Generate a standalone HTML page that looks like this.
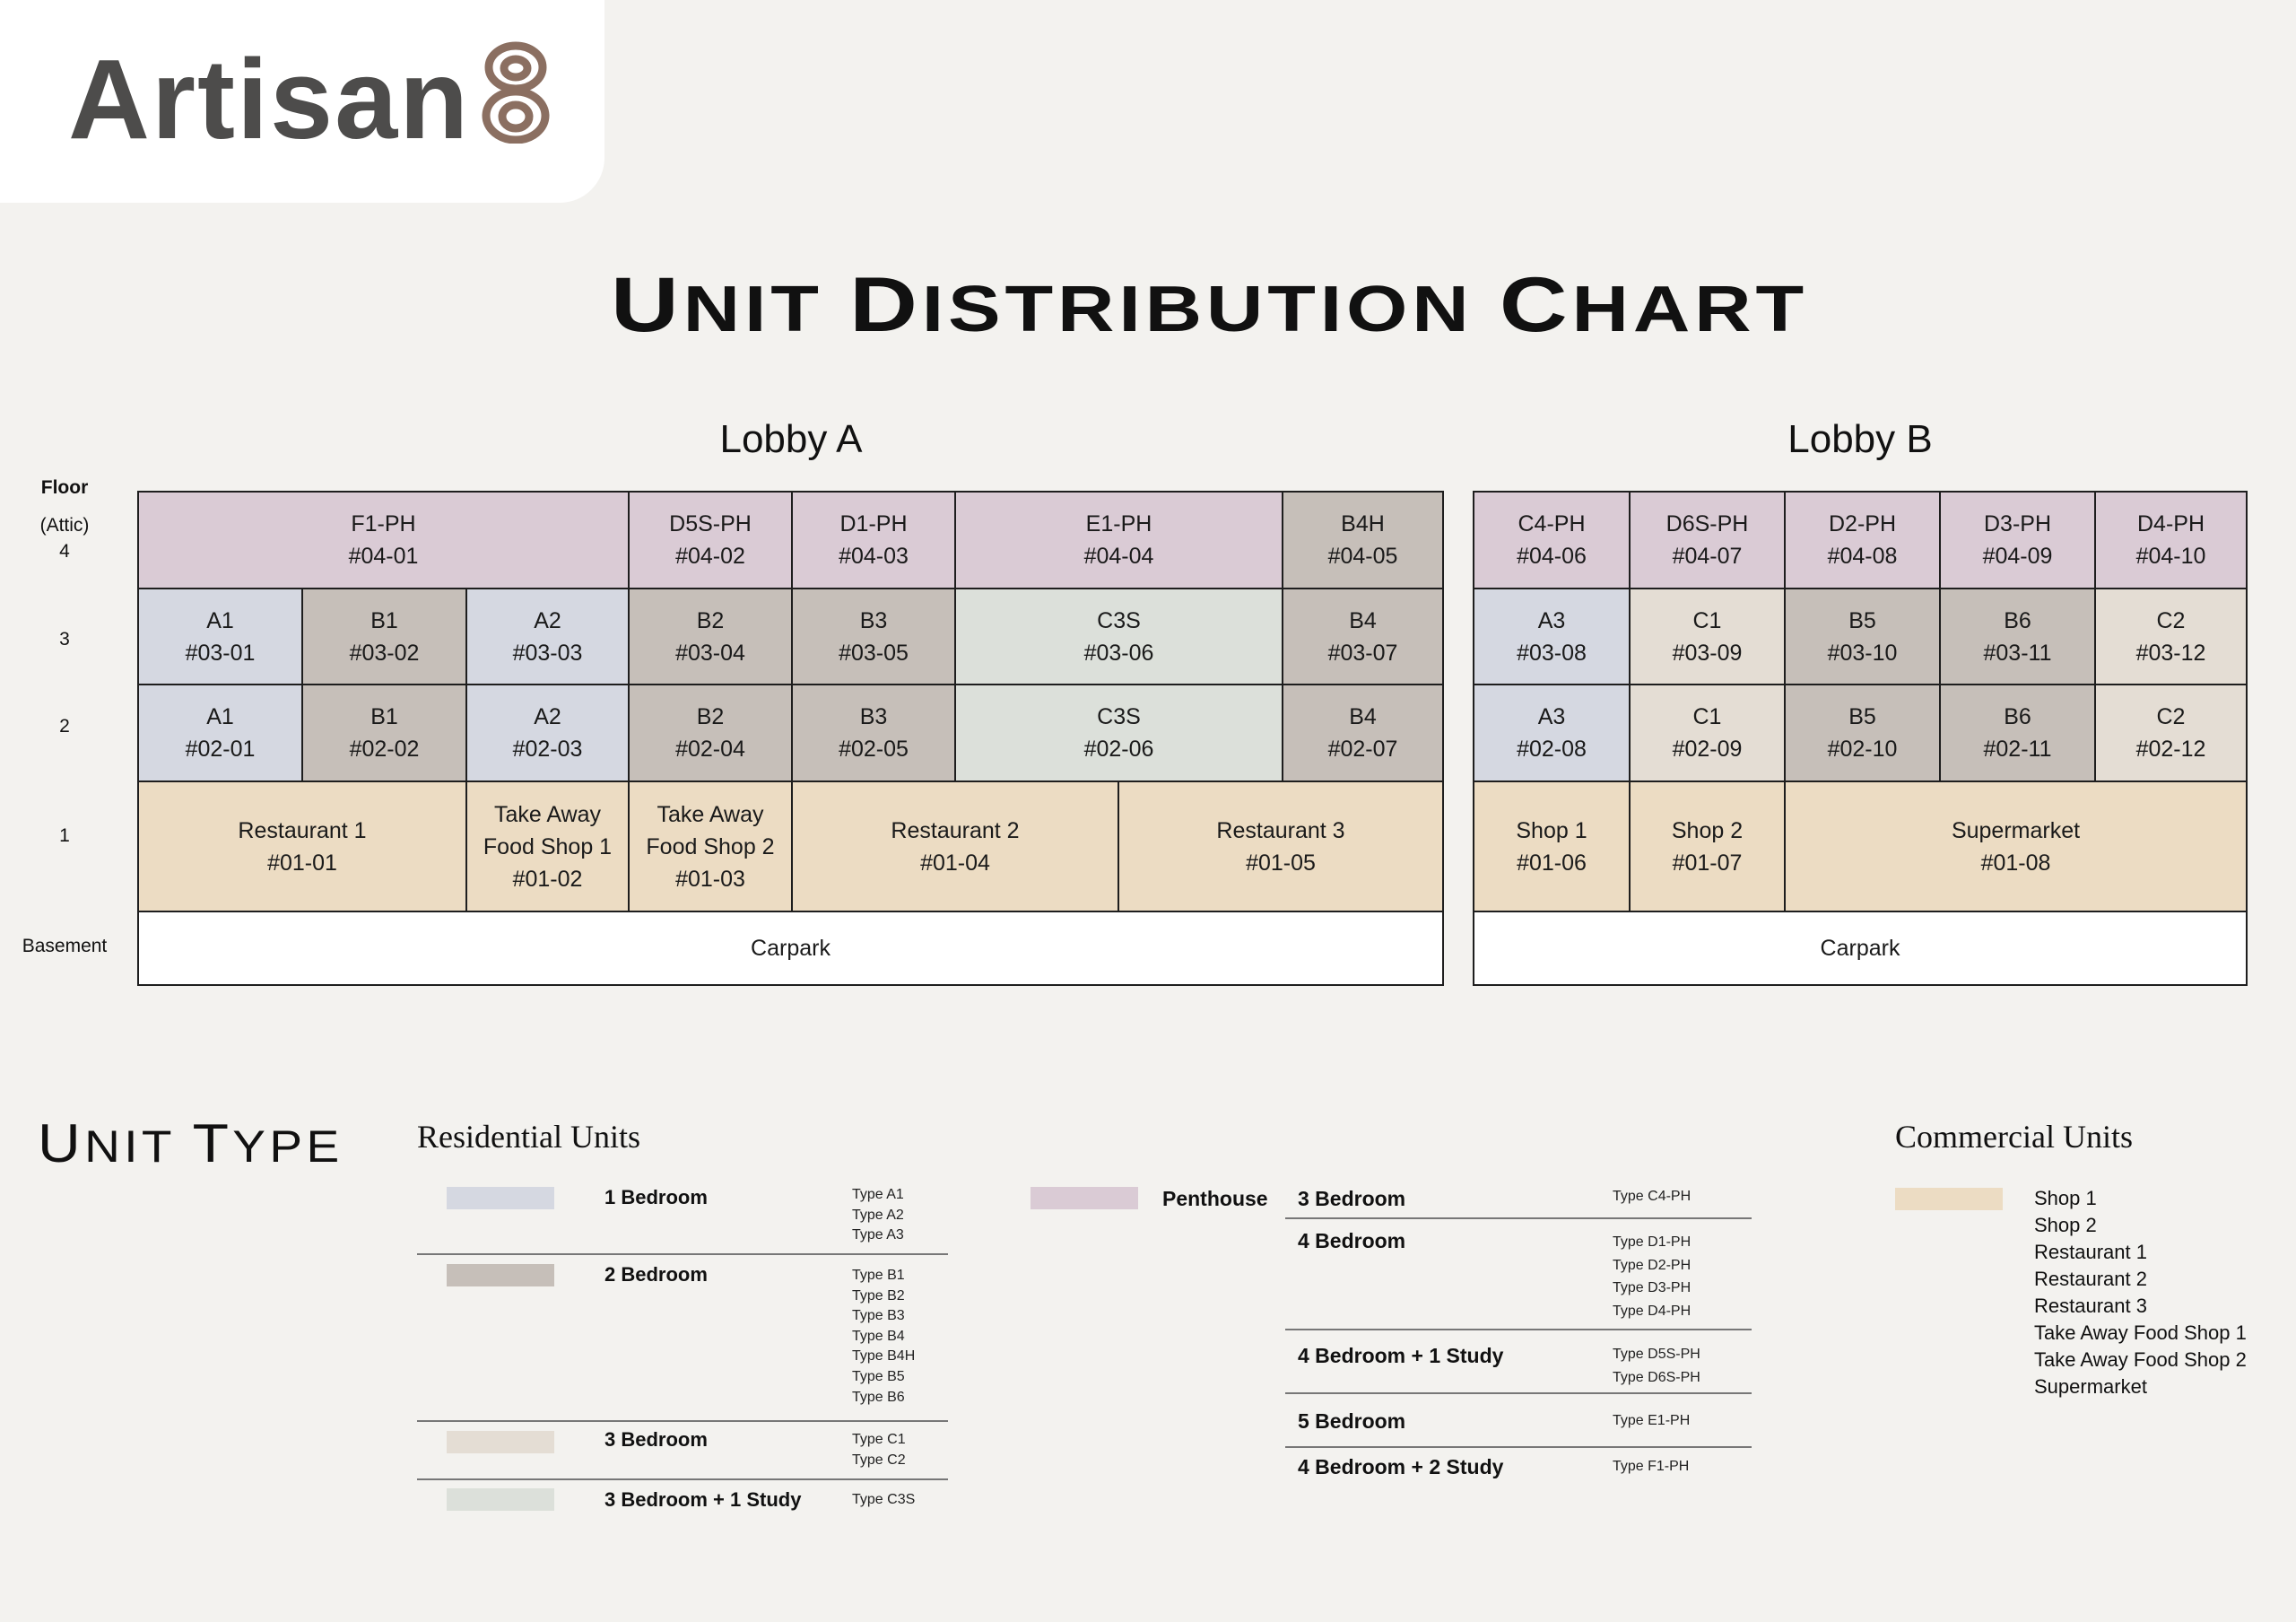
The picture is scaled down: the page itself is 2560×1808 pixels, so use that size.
<!DOCTYPE html>
<html><head><meta charset="utf-8"><style>
body{margin:0;width:2560px;height:1808px;background:#f3f2ef;position:relative;overflow:hidden;font-family:"Liberation Sans",sans-serif;color:#111}
div{position:absolute;box-sizing:border-box}
.c{border:2px solid #1e1e1e;display:flex;align-items:center;justify-content:center;text-align:center;font-size:25px;line-height:36px;color:#1a1a1a}
.p{background:#dacbd5}.a{background:#d5d8e1}.b{background:#c6bfb9}.k{background:#e4ddd4}.g{background:#dce0da}.s{background:#ecdcc3}.w{background:#fff}
.t{white-space:nowrap}
.fl{width:144px;left:0;text-align:center;font-size:21px}
.lb{font-size:22px;font-weight:bold;left:674px}
.ty{font-size:16px;line-height:22.6px;color:#222}
.hr{height:2px;background:#777}
.sw{width:120px;height:25px}
.cm{left:2268px;font-size:22px;line-height:30px}
</style></head><body>
<div style="left:0;top:0;width:674px;height:226px;background:#fff;border-bottom-right-radius:50px"></div>
<div class="t" style="left:76px;top:36px;font-size:126px;font-weight:bold;color:#4d4c4b;letter-spacing:2px;line-height:150px">Artisan</div>
<svg style="position:absolute;left:534px;top:46px" width="82" height="114" viewBox="0 0 82 114"><g fill="none" stroke="#8b6f61" stroke-width="9"><ellipse cx="41" cy="29" rx="30" ry="24"/><ellipse cx="41" cy="83" rx="33" ry="27"/><ellipse cx="41" cy="30" rx="13" ry="10"/><ellipse cx="41" cy="84" rx="15" ry="13"/></g></svg>

<div class="t" style="left:686px;top:290px;width:1325px;text-align:center;font-size:72px;font-weight:bold;letter-spacing:4px;line-height:100px;transform:scaleX(1.22);transform-origin:center"><span style="font-size:86px">U</span>NIT <span style="font-size:86px">D</span>ISTRIBUTION <span style="font-size:86px">C</span>HART</div>

<div class="t" style="left:682px;top:465px;width:400px;text-align:center;font-size:44px">Lobby A</div>
<div class="t" style="left:1874px;top:465px;width:400px;text-align:center;font-size:44px">Lobby B</div>

<div class="fl" style="top:532px;font-weight:bold">Floor</div>
<div class="fl" style="top:574px">(Attic)</div>
<div class="fl" style="top:603px">4</div>
<div class="fl" style="top:701px">3</div>
<div class="fl" style="top:798px">2</div>
<div class="fl" style="top:920px">1</div>
<div class="fl" style="top:1043px">Basement</div>

<!-- Lobby A -->
<div class="c p" style="left:153px;top:547px;width:549px;height:110px">F1-PH<br>#04-01</div>
<div class="c p" style="left:700px;top:547px;width:184px;height:110px">D5S-PH<br>#04-02</div>
<div class="c p" style="left:882px;top:547px;width:184px;height:110px">D1-PH<br>#04-03</div>
<div class="c p" style="left:1064px;top:547px;width:367px;height:110px">E1-PH<br>#04-04</div>
<div class="c b" style="left:1429px;top:547px;width:181px;height:110px">B4H<br>#04-05</div>

<div class="c a" style="left:153px;top:655px;width:185px;height:109px">A1<br>#03-01</div>
<div class="c b" style="left:336px;top:655px;width:185px;height:109px">B1<br>#03-02</div>
<div class="c a" style="left:519px;top:655px;width:183px;height:109px">A2<br>#03-03</div>
<div class="c b" style="left:700px;top:655px;width:184px;height:109px">B2<br>#03-04</div>
<div class="c b" style="left:882px;top:655px;width:184px;height:109px">B3<br>#03-05</div>
<div class="c g" style="left:1064px;top:655px;width:367px;height:109px">C3S<br>#03-06</div>
<div class="c b" style="left:1429px;top:655px;width:181px;height:109px">B4<br>#03-07</div>

<div class="c a" style="left:153px;top:762px;width:185px;height:110px">A1<br>#02-01</div>
<div class="c b" style="left:336px;top:762px;width:185px;height:110px">B1<br>#02-02</div>
<div class="c a" style="left:519px;top:762px;width:183px;height:110px">A2<br>#02-03</div>
<div class="c b" style="left:700px;top:762px;width:184px;height:110px">B2<br>#02-04</div>
<div class="c b" style="left:882px;top:762px;width:184px;height:110px">B3<br>#02-05</div>
<div class="c g" style="left:1064px;top:762px;width:367px;height:110px">C3S<br>#02-06</div>
<div class="c b" style="left:1429px;top:762px;width:181px;height:110px">B4<br>#02-07</div>

<div class="c s" style="left:153px;top:870px;width:368px;height:147px">Restaurant 1<br>#01-01</div>
<div class="c s" style="left:519px;top:870px;width:183px;height:147px">Take Away<br>Food Shop 1<br>#01-02</div>
<div class="c s" style="left:700px;top:870px;width:184px;height:147px">Take Away<br>Food Shop 2<br>#01-03</div>
<div class="c s" style="left:882px;top:870px;width:366px;height:147px">Restaurant 2<br>#01-04</div>
<div class="c s" style="left:1246px;top:870px;width:364px;height:147px">Restaurant 3<br>#01-05</div>
<div class="c w" style="left:153px;top:1015px;width:1457px;height:84px">Carpark</div>

<!-- Lobby B -->
<div class="c p" style="left:1642px;top:547px;width:176px;height:110px">C4-PH<br>#04-06</div>
<div class="c p" style="left:1816px;top:547px;width:175px;height:110px">D6S-PH<br>#04-07</div>
<div class="c p" style="left:1989px;top:547px;width:175px;height:110px">D2-PH<br>#04-08</div>
<div class="c p" style="left:2162px;top:547px;width:175px;height:110px">D3-PH<br>#04-09</div>
<div class="c p" style="left:2335px;top:547px;width:171px;height:110px">D4-PH<br>#04-10</div>

<div class="c a" style="left:1642px;top:655px;width:176px;height:109px">A3<br>#03-08</div>
<div class="c k" style="left:1816px;top:655px;width:175px;height:109px">C1<br>#03-09</div>
<div class="c b" style="left:1989px;top:655px;width:175px;height:109px">B5<br>#03-10</div>
<div class="c b" style="left:2162px;top:655px;width:175px;height:109px">B6<br>#03-11</div>
<div class="c k" style="left:2335px;top:655px;width:171px;height:109px">C2<br>#03-12</div>

<div class="c a" style="left:1642px;top:762px;width:176px;height:110px">A3<br>#02-08</div>
<div class="c k" style="left:1816px;top:762px;width:175px;height:110px">C1<br>#02-09</div>
<div class="c b" style="left:1989px;top:762px;width:175px;height:110px">B5<br>#02-10</div>
<div class="c b" style="left:2162px;top:762px;width:175px;height:110px">B6<br>#02-11</div>
<div class="c k" style="left:2335px;top:762px;width:171px;height:110px">C2<br>#02-12</div>

<div class="c s" style="left:1642px;top:870px;width:176px;height:147px">Shop 1<br>#01-06</div>
<div class="c s" style="left:1816px;top:870px;width:175px;height:147px">Shop 2<br>#01-07</div>
<div class="c s" style="left:1989px;top:870px;width:517px;height:147px">Supermarket<br>#01-08</div>
<div class="c w" style="left:1642px;top:1015px;width:864px;height:84px">Carpark</div>

<!-- Unit type -->
<div class="t" style="left:42px;top:1240px;font-size:50px;letter-spacing:4px;line-height:70px;transform:scaleX(1.1);transform-origin:left"><span style="font-size:60px">U</span>NIT <span style="font-size:60px">T</span>YPE</div>
<div class="t" style="left:465px;top:1246px;font-size:36px;font-family:'Liberation Serif',serif">Residential Units</div>
<div class="t" style="left:2113px;top:1246px;font-size:36px;font-family:'Liberation Serif',serif">Commercial Units</div>

<div class="sw" style="left:498px;top:1323px;background:#d5d8e1"></div>
<div class="lb t" style="top:1322px">1 Bedroom</div>
<div class="ty" style="left:950px;top:1321px">Type A1<br>Type A2<br>Type A3</div>
<div class="hr" style="left:465px;top:1397px;width:592px"></div>
<div class="sw" style="left:498px;top:1409px;background:#c6bfb9"></div>
<div class="lb t" style="top:1408px">2 Bedroom</div>
<div class="ty" style="left:950px;top:1411px">Type B1<br>Type B2<br>Type B3<br>Type B4<br>Type B4H<br>Type B5<br>Type B6</div>
<div class="hr" style="left:465px;top:1583px;width:592px"></div>
<div class="sw" style="left:498px;top:1595px;background:#e4ddd4"></div>
<div class="lb t" style="top:1592px">3 Bedroom</div>
<div class="ty" style="left:950px;top:1594px">Type C1<br>Type C2</div>
<div class="hr" style="left:465px;top:1648px;width:592px"></div>
<div class="sw" style="left:498px;top:1659px;background:#dce0da"></div>
<div class="lb t" style="top:1659px">3 Bedroom + 1 Study</div>
<div class="ty" style="left:950px;top:1661px">Type C3S</div>

<div class="sw" style="left:1149px;top:1323px;background:#dacbd5"></div>
<div class="lb t" style="left:1296px;top:1323px;font-size:23px">Penthouse</div>
<div class="lb t" style="left:1447px;top:1323px;font-size:23px">3 Bedroom</div>
<div class="ty" style="left:1798px;top:1323px">Type C4-PH</div>
<div class="hr" style="left:1433px;top:1357px;width:520px"></div>
<div class="lb t" style="left:1447px;top:1370px;font-size:23px">4 Bedroom</div>
<div class="ty" style="left:1798px;top:1372px;line-height:25.5px">Type D1-PH<br>Type D2-PH<br>Type D3-PH<br>Type D4-PH</div>
<div class="hr" style="left:1433px;top:1481px;width:520px"></div>
<div class="lb t" style="left:1447px;top:1498px;font-size:23px">4 Bedroom + 1 Study</div>
<div class="ty" style="left:1798px;top:1497px;line-height:25.5px">Type D5S-PH<br>Type D6S-PH</div>
<div class="hr" style="left:1433px;top:1552px;width:520px"></div>
<div class="lb t" style="left:1447px;top:1571px;font-size:23px">5 Bedroom</div>
<div class="ty" style="left:1798px;top:1573px">Type E1-PH</div>
<div class="hr" style="left:1433px;top:1612px;width:520px"></div>
<div class="lb t" style="left:1447px;top:1622px;font-size:23px">4 Bedroom + 2 Study</div>
<div class="ty" style="left:1798px;top:1624px">Type F1-PH</div>

<div class="sw" style="left:2113px;top:1324px;background:#ecdcc3"></div>
<div class="cm t" style="top:1321px">Shop 1<br>Shop 2<br>Restaurant 1<br>Restaurant 2<br>Restaurant 3<br>Take Away Food Shop 1<br>Take Away Food Shop 2<br>Supermarket</div>
</body></html>
